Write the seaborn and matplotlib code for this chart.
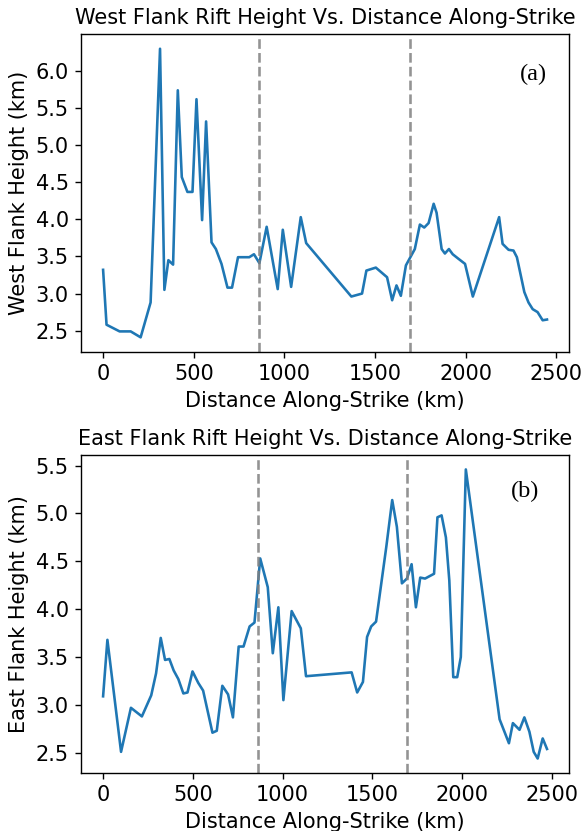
import matplotlib
matplotlib.use("Agg")
import matplotlib.pyplot as plt
from matplotlib.ticker import MultipleLocator
import seaborn as sns
import pandas as pd

# Along-strike profile of the west rift flank
west_dist = [0, 19, 91, 152, 207, 262, 314, 338, 360, 386, 412, 434, 465, 493,
             515, 546, 568, 598, 622, 653, 686, 711, 744, 806, 832, 862, 902,
             963, 991, 1037, 1090, 1120, 1369, 1428, 1452, 1504, 1566, 1594,
             1618, 1642, 1670, 1719, 1747, 1771, 1795, 1823, 1839, 1867, 1885,
             1907, 1928, 1959, 1996, 2039, 2184, 2203, 2236, 2263, 2282, 2323,
             2346, 2369, 2396, 2424, 2448]
west_height = [3.32, 2.58, 2.49, 2.49, 2.41, 2.88, 6.30, 3.05, 3.45, 3.39, 5.74,
               4.57, 4.37, 4.37, 5.62, 3.99, 5.32, 3.69, 3.60, 3.40, 3.08, 3.08,
               3.49, 3.49, 3.53, 3.41, 3.90, 3.06, 3.86, 3.09, 4.03, 3.68, 2.96,
               3.00, 3.31, 3.35, 3.22, 2.91, 3.11, 2.97, 3.38, 3.60, 3.93, 3.89,
               3.95, 4.21, 4.09, 3.60, 3.54, 3.60, 3.53, 3.47, 3.40, 2.96, 4.03,
               3.67, 3.59, 3.58, 3.49, 3.02, 2.88, 2.79, 2.75, 2.64, 2.65]

# Along-strike profile of the east rift flank
east_dist = [0, 24, 100, 155, 216, 268, 295, 321, 345, 369, 393, 419, 447, 470,
             498, 530, 557, 609, 633, 664, 696, 723, 755, 782, 816, 843, 875,
             917, 945, 976, 1004, 1050, 1101, 1130, 1384, 1415, 1447, 1470,
             1493, 1520, 1577, 1610, 1636, 1664, 1692, 1718, 1742, 1766, 1793,
             1843, 1862, 1885, 1909, 1928, 1950, 1972, 1992, 2020, 2061, 2208,
             2260, 2282, 2319, 2346, 2374, 2398, 2420, 2448, 2472]
east_height = [3.09, 3.68, 2.51, 2.97, 2.88, 3.10, 3.33, 3.70, 3.47, 3.48, 3.36,
               3.27, 3.12, 3.13, 3.35, 3.23, 3.15, 2.71, 2.73, 3.20, 3.11, 2.87,
               3.61, 3.61, 3.82, 3.86, 4.53, 4.23, 3.54, 4.02, 3.05, 3.98, 3.80,
               3.30, 3.34, 3.13, 3.24, 3.71, 3.82, 3.87, 4.65, 5.14, 4.86, 4.27,
               4.32, 4.47, 4.02, 4.33, 4.32, 4.37, 4.96, 4.98, 4.75, 4.30, 3.29,
               3.29, 3.50, 5.46, 4.89, 2.85, 2.60, 2.81, 2.74, 2.87, 2.72, 2.51,
               2.44, 2.65, 2.54]

# Segment boundaries along strike (km)
boundaries = [860, 1690]

panels = [
    ("West Flank Rift Height Vs. Distance Along-Strike", "West Flank Height (km)",
     "(a)", (0.926, 0.872), west_dist, west_height),
    ("East Flank Rift Height Vs. Distance Along-Strike", "East Flank Height (km)",
     "(b)", (0.91, 0.884), east_dist, east_height),
]

plt.rcParams.update({
    "font.size": 12,
    "axes.titlesize": 12,
    "axes.labelsize": 12,
    "xtick.labelsize": 12,
    "ytick.labelsize": 12,
})

fig = plt.figure(figsize=(582 / 125, 831 / 125), dpi=125)
axes = [fig.add_axes([0.139, 0.5767, 0.839, 0.382]),
        fig.add_axes([0.139, 0.0698, 0.839, 0.3827])]

for ax, (title, ylabel, tag, tag_pos, dist, height) in zip(axes, panels):
    df = pd.DataFrame({"dist": dist, "height": height})
    sns.lineplot(data=df, x="dist", y="height", ax=ax, color="#1f77b4",
                 linewidth=1.5, estimator=None, sort=False)
    for b in boundaries:
        ax.axvline(b, color="gray", linestyle="--", linewidth=1.5, alpha=0.85)
    ax.set_title(title)
    ax.set_xlabel("Distance Along-Strike (km)")
    ax.set_ylabel(ylabel)
    ax.xaxis.set_major_locator(MultipleLocator(500))
    ax.yaxis.set_major_locator(MultipleLocator(0.5))
    ax.text(tag_pos[0], tag_pos[1], tag, transform=ax.transAxes, ha="center",
            va="center", fontsize=14, family=["Liberation Serif", "DejaVu Serif"])

fig.savefig("out.png", dpi=125)
